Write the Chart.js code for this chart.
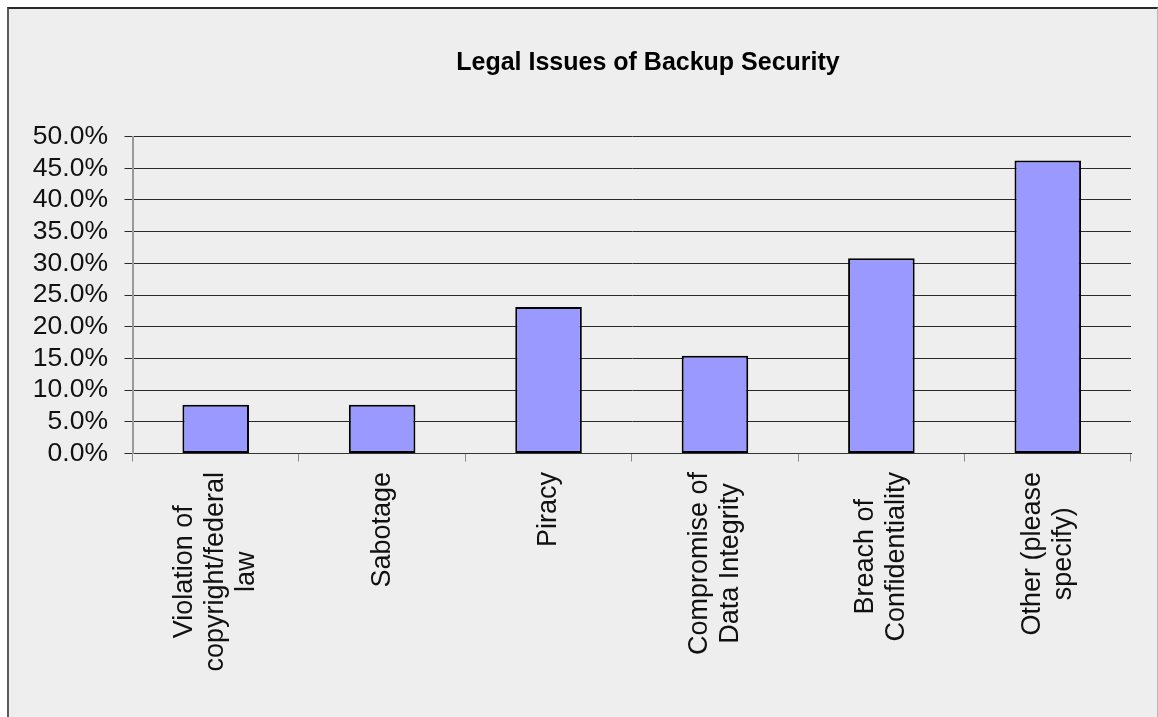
<!DOCTYPE html>
<html>
<head>
<meta charset="utf-8">
<script src="https://cdn.jsdelivr.net/npm/chart.js@4/dist/chart.umd.min.js"></script>
<style>
  html, body { margin: 0; padding: 0; background: #ffffff; }
  #frame {
    position: absolute; left: 7px; top: 7px;
    width: 1148px; height: 720px;
    border-left: 2px solid #5a5a5a;
    border-top: 2px solid #2a2a2a;
    border-right: 1px solid #b8b8b8;
    background: #eeeeee;
    overflow: hidden;
  }
  canvas { display: block; }
</style>
</head>
<body>
<div id="frame"><canvas id="c" width="1278" height="708"></canvas></div>
<script>
const chartTitle = "Legal Issues of Backup Security";
const categories = [
  ["Violation of", "copyright/federal", "law"],
  ["Sabotage"],
  ["Piracy"],
  ["Compromise of", "Data Integrity"],
  ["Breach of", "Confidentiality"],
  ["Other (please", "specify)"]
];
const percentValues = [7.7, 7.7, 23.1, 15.4, 30.8, 46.2];
const yTickValues = [0, 5, 10, 15, 20, 25, 30, 35, 40, 45, 50];

const FONT = "'Liberation Sans', Arial, sans-serif";

const xLabelPlugin = {
  id: 'xLabelPlugin',
  afterDraw(chart) {
    const xs = chart.scales.x;
    const ctx = chart.ctx;
    const size = 27, lineH = 31;
    ctx.save();
    ctx.font = size + "px " + FONT;
    ctx.fillStyle = '#111';
    ctx.textAlign = 'center';
    ctx.textBaseline = 'middle';
    const top = xs.top + 18.5;
    categories.forEach((lines, i) => {
      const cx = xs.getPixelForValue(i);
      const maxW = Math.max(...lines.map(l => ctx.measureText(l).width));
      const cy = top + maxW / 2;
      const n = lines.length;
      lines.forEach((line, j) => {
        const lx = cx + (j - (n - 1) / 2) * lineH;
        ctx.save();
        ctx.translate(lx, cy);
        ctx.rotate(-Math.PI / 2);
        ctx.fillText(line, 0, 0);
        ctx.restore();
      });
    });
    ctx.restore();
  }
};

new Chart(document.getElementById('c'), {
  type: 'bar',
  data: {
    labels: categories,
    datasets: [{
      data: percentValues,
      backgroundColor: '#9999FF',
      borderColor: '#000000',
      borderWidth: 2,
      borderSkipped: false,
      barPercentage: 0.4,
      categoryPercentage: 1.0
    }]
  },
  options: {
    responsive: false,
    animation: false,
    devicePixelRatio: 1,
    layout: { padding: { left: 0, right: 0, top: 0, bottom: 0 } },
    plugins: {
      legend: { display: false },
      tooltip: { enabled: false },
      title: {
        display: true,
        text: chartTitle,
        color: '#000',
        font: { family: FONT, size: 25, weight: 'bold' },
        padding: { top: 39, bottom: 58.5 }
      }
    },
    scales: {
      x: {
        position: 'bottom',
        offset: true,
        grid: { offset: true, drawOnChartArea: false, drawTicks: true, tickLength: 8, color: '#8a8a8a', lineWidth: 1 },
        border: { display: true, color: '#333', width: 1 },
        ticks: { color: 'rgba(0,0,0,0)', font: { family: FONT, size: 27 }, minRotation: 90, maxRotation: 90, autoSkip: false },
        afterFit(s) { s.height = 263.5; }
      },
      y: {
        position: 'left',
        min: 0,
        max: 50,
        afterBuildTicks(s) { s.ticks = yTickValues.map(v => ({ value: v })); },
        grid: { color: '#2a2a2a', lineWidth: 1, tickLength: 8, drawTicks: true },
        border: { display: true, color: '#9a9a9a', width: 2 },
        ticks: {
          color: '#111',
          padding: 16.5,
          autoSkip: false,
          font: { family: FONT, size: 26.5, lineHeight: 1.0 },
          callback: v => v.toFixed(1) + '%'
        },
        afterFit(s) { s.width = 123.5; }
      },
      y2: {
        position: 'right',
        display: true,
        grid: { display: false, drawTicks: false },
        border: { display: false },
        ticks: { display: false },
        afterFit(s) { s.width = 156; }
      }
    }
  },
  plugins: [xLabelPlugin]
});
</script>
</body>
</html>
